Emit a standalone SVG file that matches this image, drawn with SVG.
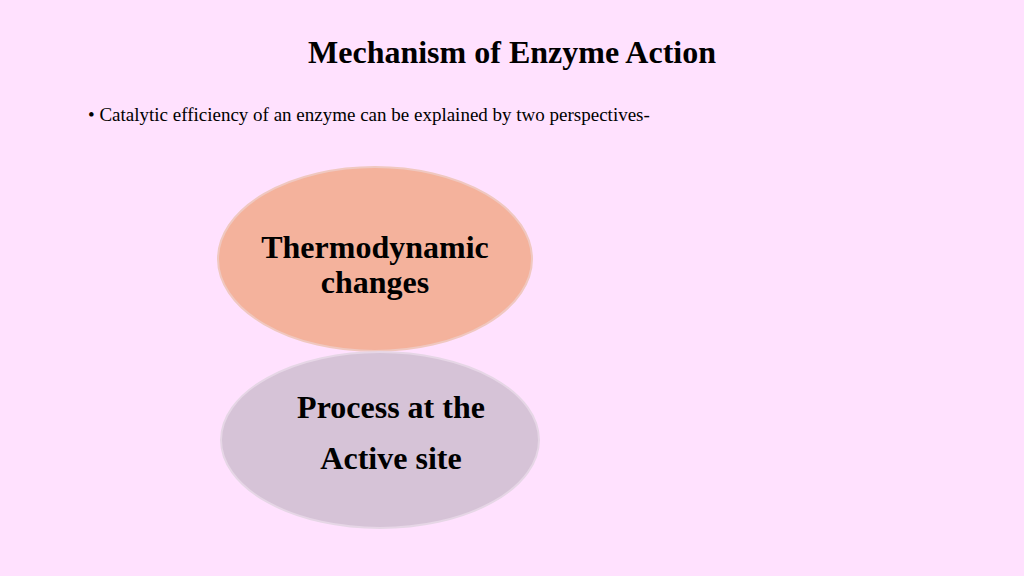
<svg xmlns="http://www.w3.org/2000/svg" width="1024" height="576" viewBox="0 0 1024 576">
<style>
text{font-family:"Liberation Serif",serif;fill:#000}
.b{font-weight:bold;font-size:32px;text-anchor:middle}
</style>
<rect width="1024" height="576" fill="#ffe1fe"/>
<text x="512" y="63" text-anchor="middle" font-weight="bold" font-size="32">Mechanism of Enzyme Action</text>
<text x="88" y="121" font-size="19">• Catalytic efficiency of an enzyme can be explained by two perspectives-</text>
<g id="thermo">
<ellipse cx="375" cy="259" rx="157" ry="92" fill="#f4b29c" stroke="#f0c8c0" stroke-width="2"/>
<text class="b" x="375" y="258">Thermodynamic</text>
<text class="b" x="375" y="293">changes</text>
</g>
<g id="process">
<ellipse cx="380" cy="440" rx="159" ry="88" fill="#d6c3d7" stroke="#e6d6e6" stroke-width="2"/>
<text class="b" x="391" y="418">Process at the</text>
<text class="b" x="391" y="469">Active site</text>
</g>
<g id="connectors"/>
</svg>
